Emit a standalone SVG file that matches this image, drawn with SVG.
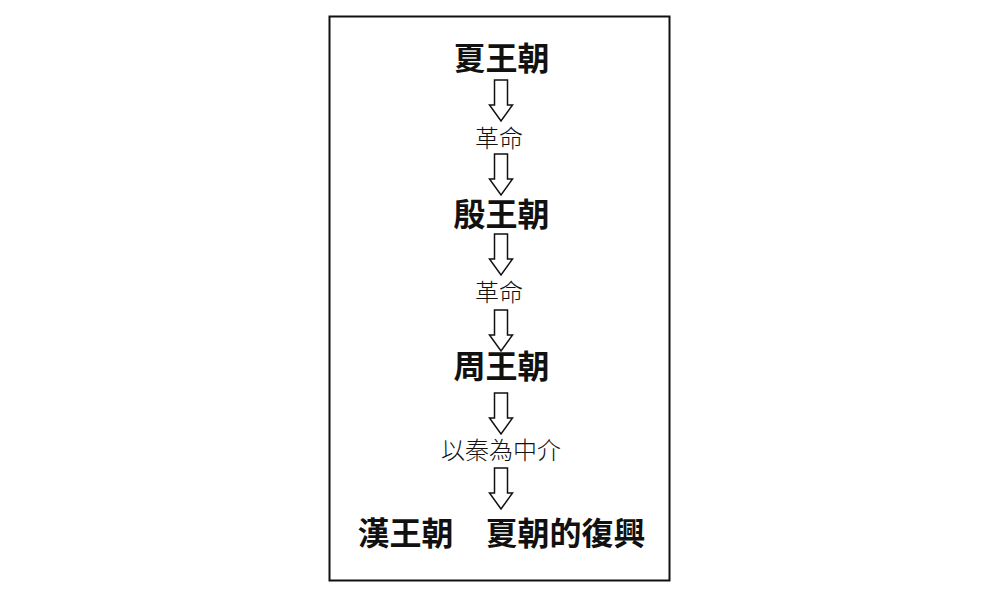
<svg xmlns="http://www.w3.org/2000/svg" width="1000" height="598" viewBox="0 0 1000 598">
<style>
.big{font-family:"Noto Sans CJK TC","Noto Sans CJK JP",sans-serif;font-size:32px;font-weight:bold;fill:#111;text-anchor:middle}
.small{font-family:"Noto Sans CJK TC","Noto Sans CJK JP",sans-serif;font-size:24px;font-weight:300;fill:#111;text-anchor:middle}
.arr{fill:#fff;stroke:#111;stroke-width:1.5;stroke-linejoin:miter}
</style>
<defs>
<path id="ar" class="arr" d="M-6.5,0 H6.5 V25 H11.5 L0,41 L-11.5,25 H-6.5 Z"/>
</defs>
<rect x="329.5" y="16.5" width="340" height="564" fill="#fff" stroke="#111" stroke-width="2"/>
<g id="connectors">
<use href="#ar" transform="translate(501,80)"/>
<use href="#ar" transform="translate(501,154)"/>
<use href="#ar" transform="translate(501,234)"/>
<use href="#ar" transform="translate(501,310)"/>
<use href="#ar" transform="translate(501,393)"/>
<use href="#ar" transform="translate(501,468)"/>
</g>
<g id="xia"><text class="big" x="501.5" y="70">夏王朝</text></g>
<g id="rev1"><text class="small" x="499" y="147">革命</text></g>
<g id="yin"><text class="big" x="501.5" y="226">殷王朝</text></g>
<g id="rev2"><text class="small" x="499" y="301">革命</text></g>
<g id="zhou"><text class="big" x="501.5" y="378">周王朝</text></g>
<g id="qin"><text class="small" x="501" y="459">以秦為中介</text></g>
<g id="han"><text class="big" x="501.5" y="545">漢王朝　夏朝的復興</text></g>
</svg>
